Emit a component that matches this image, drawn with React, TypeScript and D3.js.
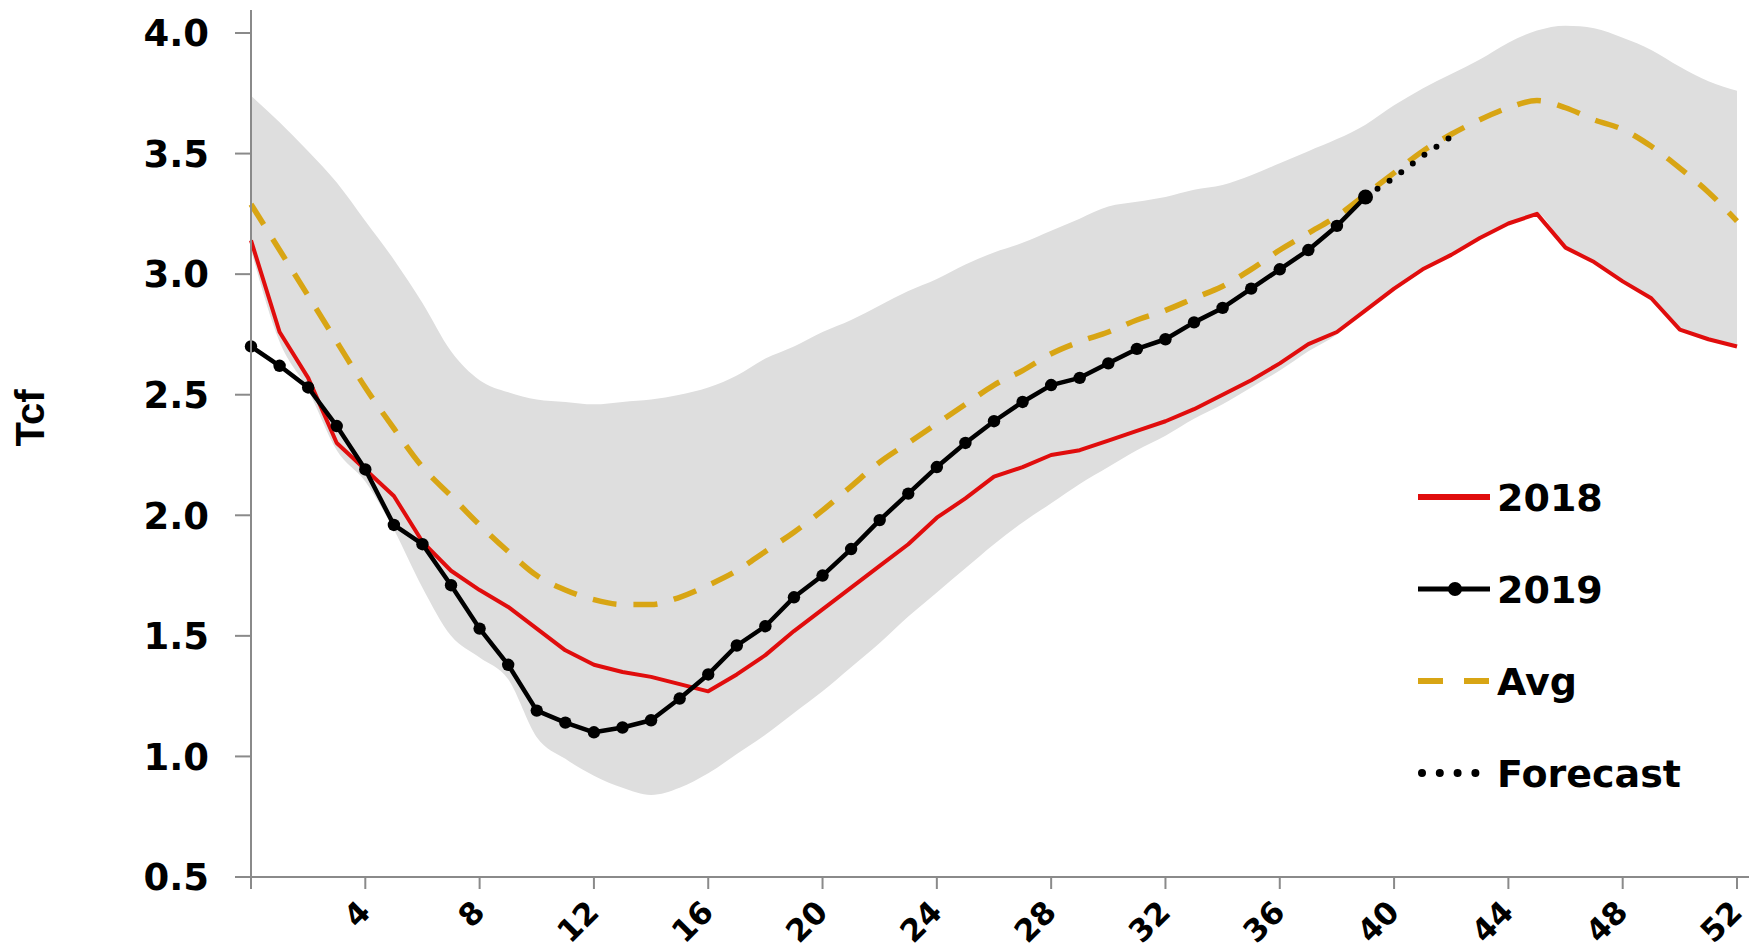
import * as d3 from 'd3'

// weekly storage, Tcf (week 0 = first week of the year)
const weeks = d3.range(0, 53)
const weekTicks = d3.range(0, 53, 4)
const valueTicks = [0.5, 1.0, 1.5, 2.0, 2.5, 3.0, 3.5, 4.0]

const y2018 = [3.14, 2.76, 2.57, 2.30, 2.19, 2.08, 1.89, 1.77, 1.69, 1.62,
  1.53, 1.44, 1.38, 1.35, 1.33, 1.30, 1.27, 1.34, 1.42, 1.52,
  1.61, 1.70, 1.79, 1.88, 1.99, 2.07, 2.16, 2.20, 2.25, 2.27,
  2.31, 2.35, 2.39, 2.44, 2.50, 2.56, 2.63, 2.71, 2.76, 2.85,
  2.94, 3.02, 3.08, 3.15, 3.21, 3.25, 3.11, 3.05, 2.97, 2.90,
  2.77, 2.73, 2.70]

const y2019 = [2.70, 2.62, 2.53, 2.37, 2.19, 1.96, 1.88, 1.71, 1.53, 1.38,
  1.19, 1.14, 1.10, 1.12, 1.15, 1.24, 1.34, 1.46, 1.54, 1.66,
  1.75, 1.86, 1.98, 2.09, 2.20, 2.30, 2.39, 2.47, 2.54, 2.57,
  2.63, 2.69, 2.73, 2.80, 2.86, 2.94, 3.02, 3.10, 3.20, 3.32]

const forecastWeeks = [39, 40, 41, 42]
const forecast = [3.32, 3.40, 3.49, 3.57]

const avg = [3.29, 3.10, 2.91, 2.72, 2.53, 2.36, 2.20, 2.08, 1.96, 1.85,
  1.75, 1.69, 1.65, 1.63, 1.63, 1.66, 1.71, 1.77, 1.85, 1.93,
  2.02, 2.12, 2.22, 2.30, 2.38, 2.46, 2.54, 2.60, 2.67, 2.72,
  2.76, 2.81, 2.85, 2.90, 2.95, 3.02, 3.10, 3.17, 3.24, 3.33,
  3.42, 3.51, 3.58, 3.64, 3.69, 3.72, 3.69, 3.64, 3.60, 3.53,
  3.44, 3.34, 3.22]

const rangeHigh = [3.74, 3.63, 3.51, 3.38, 3.22, 3.06, 2.88, 2.68, 2.56, 2.51,
  2.48, 2.47, 2.46, 2.47, 2.48, 2.50, 2.53, 2.58, 2.65, 2.70,
  2.76, 2.81, 2.87, 2.93, 2.98, 3.04, 3.09, 3.13, 3.18, 3.23,
  3.28, 3.30, 3.32, 3.35, 3.37, 3.41, 3.46, 3.51, 3.56, 3.62,
  3.70, 3.77, 3.83, 3.89, 3.96, 4.01, 4.03, 4.02, 3.98, 3.93,
  3.86, 3.80, 3.76]

const rangeLow = [3.10, 2.72, 2.52, 2.27, 2.14, 1.94, 1.70, 1.50, 1.41, 1.32,
  1.08, 0.99, 0.92, 0.87, 0.84, 0.87, 0.93, 1.01, 1.09, 1.18,
  1.27, 1.37, 1.47, 1.58, 1.68, 1.78, 1.88, 1.97, 2.05, 2.13,
  2.20, 2.27, 2.33, 2.40, 2.46, 2.53, 2.60, 2.68, 2.75, 2.85,
  2.94, 3.02, 3.08, 3.15, 3.21, 3.25, 3.11, 3.05, 2.97, 2.90,
  2.77, 2.73, 2.70]

const legendItems = ['2018', '2019', 'Avg', 'Forecast']

const RED = '#e00d0d'
const GOLD = '#d8a514'
const BAND = '#dedede'
const AXIS = '#8a8a8a'
const FONT = '"DejaVu Sans", Verdana, sans-serif'

const App = () => {
  const width = 1749
  const height = 952

  const x = d3.scaleLinear().domain([0, 52]).range([251, 1737])
  const y = d3.scaleLinear().domain([0.5, 4.0]).range([877, 33])

  const band = d3.area<number>()
    .x(w => x(w))
    .y0(w => y(rangeLow[w]))
    .y1(w => y(rangeHigh[w]))
    .curve(d3.curveMonotoneX)

  const avgLine = d3.line<number>()
    .x(w => x(w))
    .y(w => y(avg[w]))
    .curve(d3.curveMonotoneX)

  const line = d3.line<[number, number]>()
    .x(d => x(d[0]))
    .y(d => y(d[1]))

  const pts2018 = y2018.map((v, i) => [weeks[i], v] as [number, number])
  const pts2019 = y2019.map((v, i) => [weeks[i], v] as [number, number])
  const ptsFc = forecast.map((v, i) => [forecastWeeks[i], v] as [number, number])

  const x0 = x(0)
  const yBase = y(0.5)

  // legend layout
  const lgX = 1418
  const lgY = 497
  const lgStep = 92

  return (
    <svg width={width} height={height}
      style={{ position: 'absolute', left: 0, top: 0, background: '#fff' }}>
      <rect width={width} height={height} fill="#fff" />

      <path d={band(weeks) ?? ''} fill={BAND} />

      <path d={avgLine(weeks) ?? ''} fill="none" stroke={GOLD}
        strokeWidth={5.5} strokeDasharray="24 17" />

      <path d={line(pts2018) ?? ''} fill="none" stroke={RED}
        strokeWidth={4} strokeLinejoin="round" />

      <path d={line(ptsFc) ?? ''} fill="none" stroke="#000"
        strokeWidth={6} strokeLinecap="round" strokeDasharray="0 14.5" />

      <path d={line(pts2019) ?? ''} fill="none" stroke="#000"
        strokeWidth={4.5} strokeLinejoin="round" />
      {pts2019.map((d, i) => (
        <circle key={i} cx={x(d[0])} cy={y(d[1])}
          r={i === pts2019.length - 1 ? 7.5 : 6.2} fill="#000" />
      ))}

      {/* axes */}
      <line x1={x0} x2={x0} y1={10} y2={yBase + 12} stroke={AXIS} strokeWidth={2} />
      <line x1={x0 - 16} x2={width} y1={yBase} y2={yBase} stroke={AXIS} strokeWidth={2} />
      {valueTicks.map(t => (
        <g key={t}>
          <line x1={x0 - 16} x2={x0} y1={y(t)} y2={y(t)} stroke={AXIS} strokeWidth={2} />
          <text x={209} y={y(t)} dy="0.36em" textAnchor="end"
            fontFamily={FONT} fontWeight="bold" fontSize={37} fill="#000">
            {t.toFixed(1)}
          </text>
        </g>
      ))}
      {weekTicks.map(t => (
        <g key={t}>
          <line x1={x(t)} x2={x(t)} y1={yBase} y2={yBase + 12} stroke={AXIS} strokeWidth={2} />
          {t > 0 && (
            <text transform={`translate(${x(t) - 1},${yBase + 29}) rotate(-45)`}
              dy="0.36em" textAnchor="end"
              fontFamily={FONT} fontWeight="bold" fontSize={31} fill="#000">
              {t}
            </text>
          )}
        </g>
      ))}

      <text transform="translate(44,418) rotate(-90)" textAnchor="middle"
        fontFamily='"Liberation Sans", Arial, sans-serif' fontWeight="bold"
        fontSize={40} fill="#000">Tcf</text>

      {/* legend */}
      {legendItems.map((name, i) => {
        const cy = lgY + i * lgStep
        return (
          <g key={name}>
            {i === 0 && (
              <line x1={lgX} x2={lgX + 72} y1={cy} y2={cy} stroke={RED} strokeWidth={6} />
            )}
            {i === 1 && (
              <g>
                <line x1={lgX} x2={lgX + 72} y1={cy} y2={cy} stroke="#000" strokeWidth={5} />
                <circle cx={lgX + 37} cy={cy} r={7} fill="#000" />
              </g>
            )}
            {i === 2 && (
              <line x1={lgX} x2={lgX + 72} y1={cy} y2={cy} stroke={GOLD}
                strokeWidth={6} strokeDasharray="25 21" />
            )}
            {i === 3 && (
              <line x1={lgX + 4} x2={lgX + 58} y1={cy} y2={cy} stroke="#000"
                strokeWidth={8} strokeLinecap="round" strokeDasharray="0 17.8" />
            )}
            <text x={lgX + 79} y={cy} dy="0.36em" fontFamily={FONT}
              fontWeight="bold" fontSize={38} fill="#000">{name}</text>
          </g>
        )
      })}
    </svg>
  )
}

export default App
